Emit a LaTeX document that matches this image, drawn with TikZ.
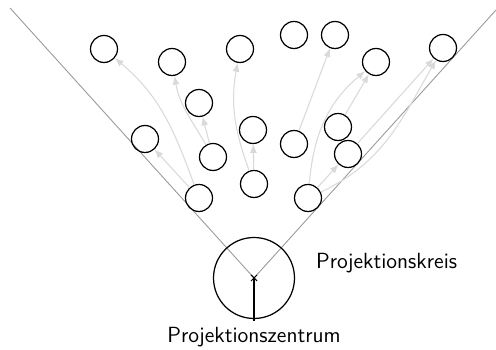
\documentclass[tikz,border=0pt]{standalone}
\usetikzlibrary{arrows.meta}
\begin{document}
\begin{tikzpicture}[x=0.02cm,y=0.02cm,
    obj/.style={circle,draw,line width=0.7pt,minimum size=0.54cm,inner sep=0pt},
    ray/.style={draw=black!40,line width=0.5pt},
    flow/.style={draw=black!15,line width=0.6pt,-{Latex[length=5pt,width=4pt]}},
    font=\sffamily\fontsize{12.5}{15}\selectfont]
  \useasboundingbox (0,0) rectangle (496,350);
  \coordinate (C) at (254,72);
  % Sichtkegel
  \draw[ray] (C) -- (10,342);
  \draw[ray] (C) -- (496,340);
  \node[circle,draw,line width=0.7pt,minimum size=1.62cm,inner sep=0pt] (kreis) at (C) {};
  \draw[line width=0.6pt] (C) +(-3,-3) -- +(3,3) (C) +(-3,3) -- +(3,-3);
  \node[anchor=west] (kreislabel) at (310,87) {Projektionskreis};
  \node (zentrum) at (254,13) {Projektionszentrum};
  \draw[line width=0.6pt] (zentrum) -- (C);
  % Objekte
  \node[obj] (a) at (104,301) {};
  \node[obj] (b) at (172,288) {};
  \node[obj] (c) at (240,301) {};
  \node[obj] (d) at (294,315) {};
  \node[obj] (e) at (335,315) {};
  \node[obj] (f) at (376,288) {};
  \node[obj] (g) at (443,302) {};
  \node[obj] (h) at (199,247) {};
  \node[obj] (i) at (145,211) {};
  \node[obj] (j) at (213,193) {};
  \node[obj] (k) at (253,220) {};
  \node[obj] (l) at (294,206) {};
  \node[obj] (m) at (338,223) {};
  \node[obj] (n) at (348,196) {};
  \node[obj] (o) at (199,152) {};
  \node[obj] (p) at (254,166) {};
  \node[obj] (q) at (308,152) {};
  % Verschiebungen
  \draw[flow] (o) -- (i);
  \draw[flow] (o) to[out=110,in=-40] (a);
  \draw[flow] (j) -- (h);
  \draw[flow] (j) to[out=120,in=-80] (b);
  \draw[flow] (p) -- (k);
  \draw[flow] (p) to[out=110,in=-100] (c);
  \draw[flow] (l) -- (e);
  \draw[flow] (q) -- (n);
  \draw[flow] (q) to[out=85,in=-140] (f);
  \draw[flow] (q) to[out=25,in=-120] (g);
  \draw[flow] (m) -- (f);
  \draw[flow] (n) -- (g);
\end{tikzpicture}
\end{document}
